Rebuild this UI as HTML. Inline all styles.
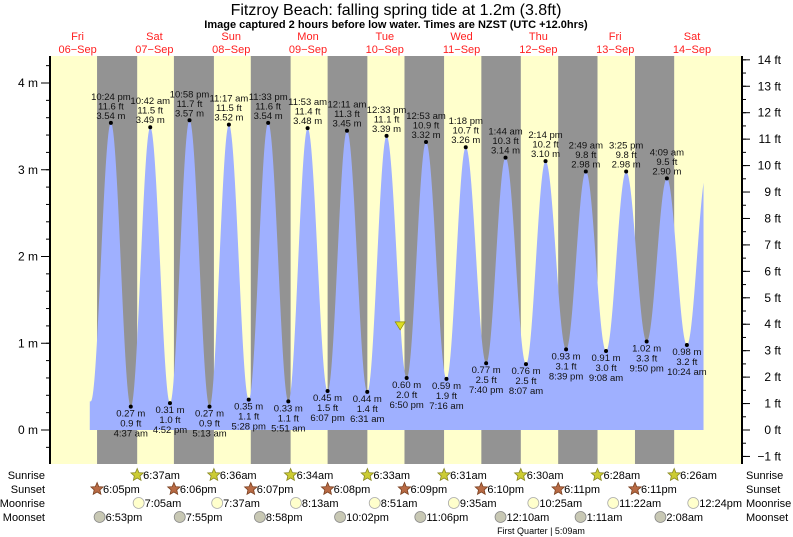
<!DOCTYPE html>
<html><head><meta charset="utf-8"><style>
html,body{margin:0;padding:0;background:#fff}
svg{display:block;font-family:"Liberation Sans",sans-serif}
</style></head><body>
<svg id="chart" width="793" height="537" viewBox="0 0 793 537" xmlns="http://www.w3.org/2000/svg">
<text x="396" y="15" text-anchor="middle" font-size="16" fill="#000">Fitzroy Beach: falling  spring tide at 1.2m (3.8ft)</text>
<text x="396" y="28" text-anchor="middle" font-size="11" font-weight="bold" fill="#000">Image captured 2 hours before low water. Times are NZST (UTC +12.0hrs)</text>
<g id="bg"></g><g id="tide"></g><g id="labels"></g><g id="axes"></g><g id="rows"></g>
<text x="541" y="534" text-anchor="middle" font-size="9" fill="#000">First Quarter | 5:09am</text>
</svg>
<script>
// Data
const dayNames=["Fri","Sat","Sun","Mon","Tue","Wed","Thu","Fri","Sat"];
const dayDates=["06−Sep","07−Sep","08−Sep","09−Sep","10−Sep","11−Sep","12−Sep","13−Sep","14−Sep"];
const exDay=[0,0,1,1,1,1,2,2,2,2,3,3,3,4,4,4,4,5,5,5,5,6,6,6,6,7,7,7,7,8,8];
const exHour=[16.1,22.4,4.62,10.7,16.87,22.97,5.22,11.28,17.47,23.55,5.85,11.88,18.12,0.18,6.52,12.55,18.83,0.88,7.27,13.3,19.67,1.73,8.12,14.23,20.65,2.82,9.13,15.42,21.83,4.15,10.4];
const exHeight=[0.33,3.54,0.27,3.49,0.31,3.57,0.27,3.52,0.35,3.54,0.33,3.48,0.45,3.45,0.44,3.39,0.60,3.32,0.59,3.26,0.77,3.14,0.76,3.10,0.93,2.98,0.91,2.98,1.02,2.90,0.98];
const exTime=["","10:24 pm","4:37 am","10:42 am","4:52 pm","10:58 pm","5:13 am","11:17 am","5:28 pm","11:33 pm","5:51 am","11:53 am","6:07 pm","12:11 am","6:31 am","12:33 pm","6:50 pm","12:53 am","7:16 am","1:18 pm","7:40 pm","1:44 am","8:07 am","2:14 pm","8:39 pm","2:49 am","9:08 am","3:25 pm","9:50 pm","4:09 am","10:24 am"];
const exFt=["","11.6","0.9","11.5","1.0","11.7","0.9","11.5","1.1","11.6","1.1","11.4","1.5","11.3","1.4","11.1","2.0","10.9","1.9","10.7","2.5","10.3","2.5","10.2","3.1","9.8","3.0","9.8","3.3","9.5","3.2"];
const nextHigh=[8,16.7,3.0];
const tideStart=[0,15.8]; const tideEnd=[8,15.6];
const nowMark=[4,16.8,1.2];
const sunriseText=["6:37am","6:36am","6:34am","6:33am","6:31am","6:30am","6:28am","6:26am"];
const sunriseHour=[6.62,6.6,6.57,6.55,6.52,6.5,6.47,6.43];
const sunsetText=["6:05pm","6:06pm","6:07pm","6:08pm","6:09pm","6:10pm","6:11pm","6:11pm"];
const sunsetHour=[18.08,18.1,18.12,18.13,18.15,18.17,18.18,18.18];
const moonriseText=["7:05am","7:37am","8:13am","8:51am","9:35am","10:25am","11:22am","12:24pm"];
const moonriseHour=[7.08,7.62,8.22,8.85,9.58,10.42,11.37,12.4];
const moonsetText=["6:53pm","7:55pm","8:58pm","10:02pm","11:06pm","12:10am","1:11am","2:08am"];
const moonsetDay=[0,1,2,3,4,6,7,8];
const moonsetHour=[18.88,19.92,20.97,22.03,23.1,0.17,1.18,2.13];
const leftTicks=[0,1,2,3,4];
const rightTicks=[-1,0,1,2,3,4,5,6,7,8,9,10,11,12,13,14];

// Scales
const X0=39.2, DAY=76.8, PL=50, PR=742, PT=56, PB=464, Y0=430, MPX=86.75;
const xT=(d,h)=>X0+d*DAY+h*DAY/24;
const yM=m=>Y0-m*MPX;
const yF=f=>Y0-f*0.3048*MPX;
const NS="http://www.w3.org/2000/svg";
function mk(tag,attrs,parent,txt){const e=document.createElementNS(NS,tag);for(const k in attrs)e.setAttribute(k,attrs[k]);if(txt!==undefined)e.textContent=txt;parent.appendChild(e);return e;}
const bg=document.getElementById('bg'),tide=document.getElementById('tide'),lab=document.getElementById('labels'),ax=document.getElementById('axes'),rows=document.getElementById('rows');

let r=mk('rect',{x:PL,y:PT,width:PR-PL,height:PB-PT,fill:'#ffffcc'},bg);


for(let i=0;i<sunsetHour.length;i++){
  const a=xT(i,sunsetHour[i]), b=Math.min(PR,xT(i+1,sunriseHour[i]));
  const n=mk('rect',{x:a,y:PT,width:b-a,height:PB-PT,fill:'#939393'},bg);
  
  
}
for(let i=0;i<dayNames.length;i++){
  const cx=xT(i,12);
  let t=mk('text',{x:cx,y:40,'text-anchor':'middle','font-size':11,fill:'#ff2020'},lab,dayNames[i]);
  
  
  t=mk('text',{x:cx,y:53,'text-anchor':'middle','font-size':11,fill:'#ff2020'},lab,dayDates[i]);
  
  
}
const pts=exDay.map((d,i)=>[xT(d,exHour[i]),exHeight[i]]);
pts.push([xT(nextHigh[0],nextHigh[1]),nextHigh[2]]);
function hAt(x){for(let i=0;i<pts.length-1;i++){const[a,ha]=pts[i],[b,hb]=pts[i+1];if(x>=a&&x<=b){const f=(x-a)/(b-a);return ha+(hb-ha)*(1-Math.cos(Math.PI*f))/2;}}return pts[0][1];}
const xs=xT(tideStart[0],tideStart[1]), xe=xT(tideEnd[0],tideEnd[1]);
let d=`M${xs},${Y0}`;
for(let x=xs;x<=xe;x+=0.5)d+=`L${x.toFixed(1)},${yM(hAt(x)).toFixed(1)}`;
d+=`L${xe},${yM(hAt(xe)).toFixed(1)}L${xe},${Y0}Z`;
let p=mk('path',{d:d,fill:'#9fb0ff'},tide);


for(let i=1;i<exDay.length;i++){
  const x=xT(exDay[i],exHour[i]), y=yM(exHeight[i]), high=exHeight[i]>2;
  const c=mk('circle',{cx:x,cy:y,r:2,fill:'#000'},lab);
  
  
  const lines=high?[[exTime[i],-23],[exFt[i]+' ft',-13.5],[exHeight[i].toFixed(2)+' m',-4]]:[[exHeight[i].toFixed(2)+' m',10],[exFt[i]+' ft',20],[exTime[i],30]];
  for(const[s,o]of lines){const t=mk('text',{x:x,y:y+o,'text-anchor':'middle','font-size':9.5,fill:'#111'},lab,s);
    
    }
}
const nx=xT(nowMark[0],nowMark[1]), ny=yM(nowMark[2]);
let m=mk('path',{d:`M${nx-5},${ny-4}L${nx+5},${ny-4}L${nx},${ny+4}Z`,fill:'#dddd22',stroke:'#888800','stroke-width':0.7},lab);


let l=mk('line',{x1:PL,y1:PT,x2:PL,y2:PB,stroke:'#000','stroke-width':2},ax);


for(let v=-0.4;v<=4.4;v+=0.2){const y=yM(v);if(y<PT||y>PB)continue;mk('line',{x1:PL-4,y1:y,x2:PL,y2:y,stroke:'#000'},ax);}
leftTicks.forEach(v=>{const y=yM(v);mk('line',{x1:PL-9,y1:y,x2:PL,y2:y,stroke:'#000'},ax);
  const t=mk('text',{x:38,y:y+4,'text-anchor':'end','font-size':12},ax,v+' m');
  
  });
l=mk('line',{x1:PR,y1:PT,x2:PR,y2:PB,stroke:'#000','stroke-width':2},ax);


for(let v=-1.5;v<=14.5;v+=0.5){const y=yF(v);if(y<PT||y>PB)continue;mk('line',{x1:PR,y1:y,x2:PR+4,y2:y,stroke:'#000'},ax);}
rightTicks.forEach(v=>{const y=yF(v);mk('line',{x1:PR,y1:y,x2:PR+8,y2:y,stroke:'#000'},ax);
  const t=mk('text',{x:781,y:y+4,'text-anchor':'end','font-size':12},ax,(v<0?'−'+(-v):v)+' ft');
  
  });
const rowNames=['Sunrise','Sunset','Moonrise','Moonset'], rowY=[475,489,503,517];
rowNames.forEach((n,i)=>{
  let t=mk('text',{x:45,y:rowY[i]+4,'text-anchor':'end','font-size':11},rows,n);
  
  
  t=mk('text',{x:746,y:rowY[i]+4,'font-size':11},rows,n);
  
  
});
function star(x,y,fill,stroke){let s='';for(let k=0;k<10;k++){const a=-Math.PI/2+k*Math.PI/5,rr=k%2?3:6.5;s+=(k?'L':'M')+(x+rr*Math.cos(a)).toFixed(1)+','+(y+rr*Math.sin(a)).toFixed(1);}return mk('path',{d:s+'Z',fill:fill,stroke:stroke,'stroke-width':0.8},rows);}
function ev(x,y,txt,kind){
  let ic;
  if(kind==='sunrise')ic=star(x,y,'#cccc33','#888822');
  else if(kind==='sunset')ic=star(x,y,'#b86a44','#7a4020');
  else if(kind==='moonrise')ic=mk('circle',{cx:x,cy:y,r:5.5,fill:'#ffffcc',stroke:'#aaa','stroke-width':0.8},rows);
  else ic=mk('circle',{cx:x,cy:y,r:5.5,fill:'#c8c8b4',stroke:'#888','stroke-width':0.8},rows);
  
  
  const t=mk('text',{x:x+6,y:y+4,'font-size':11},rows,txt);
  
  
}
sunriseText.forEach((s,i)=>ev(xT(i+1,sunriseHour[i]),rowY[0],s,'sunrise'));
sunsetText.forEach((s,i)=>ev(xT(i,sunsetHour[i]),rowY[1],s,'sunset'));
moonriseText.forEach((s,i)=>ev(xT(i+1,moonriseHour[i]),rowY[2],s,'moonrise'));
moonsetText.forEach((s,i)=>ev(xT(moonsetDay[i],moonsetHour[i]),rowY[3],s,'moonset'));
</script>
</body></html>
